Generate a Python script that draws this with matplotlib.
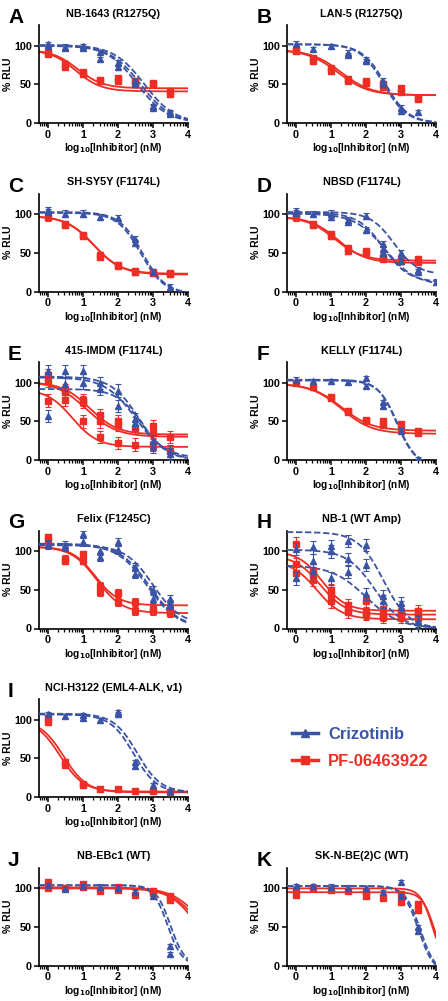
import numpy as np
import matplotlib
matplotlib.use("Agg")
import matplotlib.pyplot as plt
from matplotlib.lines import Line2D

plt.rcParams['font.family'] = ['Liberation Sans', 'DejaVu Sans']
plt.rcParams['font.weight'] = 'bold'
plt.rcParams['mathtext.default'] = 'bf'

BLUE = '#3a53a4'
RED = '#ee2e24'

# fit parameters per replicate: (top, bottom, logIC50, hill)
# data points: x = log10 dose, y = % RLU

# A  NB-1643
A_criz_fit = [(101, 0, 2.55, 1.0), (100, 0, 2.65, 1.0), (101, 0, 2.75, 1.0)]
A_criz_x = [0, 0, 0.5, 0.5, 1, 1, 1.5, 1.5, 2, 2, 2.5, 2.5, 3, 3, 3.5, 3.5]
A_criz_y = [100, 102, 97, 99, 97, 100, 83, 92, 72, 78, 50, 55, 20, 22, 12, 14]
A_pf_fit = [(95, 45, 0.85, 1.2), (95, 41, 0.8, 1.2)]
A_pf_x = [0, 0, 0.5, 0.5, 1, 1, 1.5, 1.5, 2, 2, 2.5, 2.5, 3, 3, 3.5, 3.5]
A_pf_y = [90, 92, 73, 77, 64, 66, 54, 56, 55, 58, 52, 55, 50, 52, 37, 41]

# B  LAN-5
B_criz_fit = [(102, 0, 2.55, 1.3), (102, 0, 2.5, 1.3)]
B_criz_x = [0, 0.5, 1, 1.5, 1.5, 2, 2, 2.5, 2.5, 3, 3, 3.5]
B_criz_y = [103, 96, 100, 88, 91, 80, 82, 50, 55, 15, 20, 14]
B_pf_fit = [(95, 36, 1.2, 1.0), (95, 36, 1.3, 1.0)]
B_pf_x = [0, 0, 0.5, 0.5, 1, 1, 1.5, 1.5, 2, 2, 2.5, 2.5, 3, 3, 3.5, 3.5]
B_pf_y = [93, 95, 80, 84, 67, 71, 55, 57, 52, 54, 47, 50, 40, 45, 31, 33]

# C  SH-SY5Y
C_criz_fit = [(102, -3, 2.65, 1.3), (103, -3, 2.7, 1.3)]
C_criz_x = [0, 0, 0.5, 1, 1.5, 2, 2.5, 2.5, 3, 3.5]
C_criz_y = [105, 103, 101, 101, 97, 95, 68, 63, 25, 6]
C_pf_fit = [(98, 23, 1.3, 1.1), (98, 22, 1.32, 1.1)]
C_pf_x = [0, 0.5, 0.5, 1, 1, 1.5, 1.5, 2, 2, 2.5, 2.5, 3, 3, 3.5, 3.5]
C_pf_y = [96, 86, 88, 72, 73, 47, 45, 33, 34, 25, 26, 25, 24, 23, 24]

# D  NBSD
D_criz_fit = [(102, 12, 2.5, 1.2), (101, 8, 2.55, 1.0), (103, 22, 2.8, 1.3)]
D_criz_x = [0, 0, 0.5, 1, 1, 1.5, 1.5, 2, 2, 2.5, 2.5, 2.5, 3, 3, 3.5, 3.5, 4]
D_criz_y = [104, 102, 100, 101, 97, 93, 90, 98, 80, 62, 55, 50, 50, 40, 28, 25, 12]
D_pf_fit = [(97, 40, 1.1, 1.1), (97, 37, 1.2, 1.1)]
D_pf_x = [0, 0, 0.5, 0.5, 1, 1, 1.5, 1.5, 2, 2, 2.5, 2.5, 3, 3, 3.5, 3.5]
D_pf_y = [96, 98, 86, 88, 72, 75, 53, 56, 50, 53, 42, 45, 40, 42, 38, 42]

# E  415-IMDM
E_criz_fit = [(108, 0, 2.6, 1.1), (107, 2, 2.5, 1.0), (92, 0, 2.7, 1.2)]
E_criz_x = [0, 0, 0.5, 0.5, 1, 1, 1.5, 1.5, 2, 2, 2.5, 2.5, 3, 3, 3.5, 3.5]
E_criz_y = [115, 57, 115, 98, 115, 100, 100, 92, 90, 70, 53, 48, 25, 17, 12, 8]
E_pf_fit = [(101, 33, 1.2, 1.1), (102, 30, 1.1, 1.0), (92, 17, 0.7, 1.2)]
E_pf_x = [0, 0, 0, 0.5, 0.5, 0.5, 1, 1, 1, 1.5, 1.5, 1.5, 2, 2, 2, 2.5, 2.5, 3, 3, 3, 3.5, 3.5]
E_pf_y = [110, 103, 77, 90, 88, 78, 78, 75, 50, 58, 50, 30, 50, 45, 22, 42, 20, 44, 35, 20, 30, 12]

# F  KELLY
F_criz_fit = [(103, -8, 2.9, 1.6), (104, -8, 2.88, 1.6)]
F_criz_x = [0, 0.5, 1, 1.5, 2, 2, 2.5, 2.5, 3, 3.5]
F_criz_y = [104, 102, 102, 101, 106, 96, 75, 70, 38, 1]
F_pf_fit = [(99, 38, 1.3, 1.0), (99, 34, 1.3, 1.0)]
F_pf_x = [0, 0.5, 1, 1, 1.5, 1.5, 2, 2, 2.5, 2.5, 3, 3, 3.5, 3.5]
F_pf_y = [100, 94, 80, 82, 62, 64, 50, 52, 45, 50, 40, 47, 35, 38]

# G  Felix
G_criz_fit = [(110, 0, 2.9, 1.0), (109, 0, 2.85, 1.0), (108, 5, 3.0, 1.1)]
G_criz_x = [0, 0, 0.5, 0.5, 1, 1, 1.5, 1.5, 2, 2, 2.5, 2.5, 3, 3, 3.5, 3.5, 3.5]
G_criz_y = [110, 108, 108, 106, 122, 112, 100, 93, 112, 102, 80, 70, 50, 38, 38, 32, 30]
G_pf_fit = [(106, 30, 1.35, 1.3), (106, 20, 1.4, 1.2)]
G_pf_x = [0, 0, 0.5, 0.5, 1, 1, 1.5, 1.5, 2, 2, 2.5, 2.5, 3, 3, 3.5, 3.5]
G_pf_y = [118, 115, 90, 88, 96, 88, 55, 47, 46, 34, 34, 23, 25, 23, 20, 22]

# H  NB-1
H_criz_fit = [(125, 0, 2.5, 1.2), (102, 0, 2.25, 1.1), (82, 0, 2.0, 0.9)]
H_criz_x = [0, 0, 0.5, 0.5, 0.5, 1, 1, 1, 1.5, 1.5, 1.5, 2, 2, 2, 2.5, 2.5, 3, 3, 3.5, 3.5]
H_criz_y = [103, 65, 105, 88, 75, 107, 100, 65, 113, 90, 73, 108, 82, 45, 42, 35, 33, 28, 10, 8]
H_pf_fit = [(100, 23, 0.75, 1.3), (95, 18, 0.7, 1.2), (88, 12, 0.6, 1.2)]
H_pf_x = [0, 0, 0, 0.5, 0.5, 0.5, 1, 1, 1, 1.5, 1.5, 1.5, 2, 2, 2, 2.5, 2.5, 2.5, 3, 3, 3, 3.5, 3.5, 3.5]
H_pf_y = [110, 83, 72, 75, 70, 63, 50, 45, 35, 30, 25, 22, 35, 20, 19, 25, 18, 15, 22, 18, 15, 23, 18, 13]

# I  NCI-H3122
I_criz_fit = [(107, 5, 2.45, 1.3), (108, 6, 2.55, 1.3)]
I_criz_x = [0, 0.5, 1, 1, 1.5, 2, 2, 2.5, 2.5, 3, 3.5]
I_criz_y = [107, 105, 103, 106, 100, 107, 110, 40, 45, 15, 8]
I_pf_fit = [(100, 7, 0.35, 1.3), (100, 6, 0.45, 1.3)]
I_pf_x = [0, 0, 0.5, 0.5, 1, 1, 1.5, 2, 2.5, 3, 3.5]
I_pf_y = [103, 97, 45, 42, 15, 17, 10, 10, 8, 8, 7]

# J  NB-EBc1
J_criz_fit = [(104, 0, 3.42, 2.1), (104, 0, 3.5, 2.1)]
J_criz_x = [0, 0.5, 1, 1.5, 2, 2.5, 3, 3.5, 3.5]
J_criz_y = [104, 99, 103, 102, 101, 95, 90, 25, 15]
J_pf_fit = [(101, 0, 4.5, 1.0), (101, 0, 4.4, 1.0), (100, 0, 4.3, 1.1)]
J_pf_x = [0, 0, 0.5, 1, 1, 1.5, 2, 2, 2.5, 3, 3, 3.5, 3.5]
J_pf_y = [108, 101, 101, 105, 102, 97, 102, 98, 92, 97, 94, 90, 85]

# K  SK-N-BE(2)C
K_criz_fit = [(103, -10, 3.5, 2.0), (103, -10, 3.55, 2.0)]
K_criz_x = [0, 0.5, 1, 1.5, 2, 2.5, 3, 3, 3.5, 3.5]
K_criz_y = [103, 103, 102, 101, 100, 95, 108, 90, 50, 45]
K_pf_fit = [(100, 0, 3.9, 2.5), (95, 0, 3.95, 2.5)]
K_pf_x = [0, 0, 0.5, 1, 1.5, 2, 2, 2.5, 3, 3, 3.5, 3.5]
K_pf_y = [98, 92, 100, 98, 97, 95, 90, 88, 93, 82, 80, 72]

letters = ['A', 'B', 'C', 'D', 'E', 'F', 'G', 'H', 'I', 'J', 'K']
titles = ['NB-1643 (R1275Q)', 'LAN-5 (R1275Q)', 'SH-SY5Y (F1174L)', 'NBSD (F1174L)',
          '415-IMDM (F1174L)', 'KELLY (F1174L)', 'Felix (F1245C)', 'NB-1 (WT Amp)',
          'NCI-H3122 (EML4-ALK, v1)', 'NB-EBc1 (WT)', 'SK-N-BE(2)C (WT)']
# error bar half-width per panel
errs = [3, 3, 4, 4, 8, 3, 5, 8, 3, 3, 3]

panel_data = {
    'A': (A_criz_fit, A_criz_x, A_criz_y, A_pf_fit, A_pf_x, A_pf_y),
    'B': (B_criz_fit, B_criz_x, B_criz_y, B_pf_fit, B_pf_x, B_pf_y),
    'C': (C_criz_fit, C_criz_x, C_criz_y, C_pf_fit, C_pf_x, C_pf_y),
    'D': (D_criz_fit, D_criz_x, D_criz_y, D_pf_fit, D_pf_x, D_pf_y),
    'E': (E_criz_fit, E_criz_x, E_criz_y, E_pf_fit, E_pf_x, E_pf_y),
    'F': (F_criz_fit, F_criz_x, F_criz_y, F_pf_fit, F_pf_x, F_pf_y),
    'G': (G_criz_fit, G_criz_x, G_criz_y, G_pf_fit, G_pf_x, G_pf_y),
    'H': (H_criz_fit, H_criz_x, H_criz_y, H_pf_fit, H_pf_x, H_pf_y),
    'I': (I_criz_fit, I_criz_x, I_criz_y, I_pf_fit, I_pf_x, I_pf_y),
    'J': (J_criz_fit, J_criz_x, J_criz_y, J_pf_fit, J_pf_x, J_pf_y),
    'K': (K_criz_fit, K_criz_x, K_criz_y, K_pf_fit, K_pf_x, K_pf_y),
}
# grid slot (row, col) of each panel; the legend takes row 4, col 1
slots = [(0, 0), (0, 1), (1, 0), (1, 1), (2, 0), (2, 1), (3, 0), (3, 1), (4, 0), (5, 0), (5, 1)]


def hill_curve(x, top, bottom, logic50, hill):
    return bottom + (top - bottom) / (1 + 10 ** ((x - logic50) * hill))


W, H = 448, 1001
fig = plt.figure(figsize=(W / 100, H / 100), dpi=100)

col_left = [39, 287]
ax_w = 149
row_top0 = 25
row_step = 168.5
ax_h = 98


def axes_rect(row, col):
    top = row_top0 + row * row_step
    return [col_left[col] / W, 1 - (top + ax_h) / H, ax_w / W, ax_h / H]


xs = np.linspace(-0.25, 4, 300)
minor = [d + np.log10(k) for d in range(0, 4) for k in range(2, 10)]
minor = [m for m in minor if m < 4] + [np.log10(k) - 1 for k in range(6, 10)]

for i, letter in enumerate(letters):
    row, col = slots[i]
    ax = fig.add_axes(axes_rect(row, col))
    cfit, cx, cy, pfit, px, py = panel_data[letter]

    for p in pfit:
        ax.plot(xs, hill_curve(xs, *p), color=RED, lw=1.3, zorder=2)
    for p in cfit:
        ax.plot(xs, hill_curve(xs, *p), color=BLUE, lw=1.3, ls=(0, (3.5, 1.5)), zorder=3)

    ax.errorbar(px, py, yerr=errs[i], fmt='s', color=RED, ms=4.3, elinewidth=0.8,
                capsize=2, capthick=0.8, zorder=4)
    ax.errorbar(cx, cy, yerr=errs[i], fmt='^', color=BLUE, ms=4.3, elinewidth=0.8,
                capsize=2, capthick=0.8, zorder=5)

    ax.set_xlim(-0.25, 4)
    ax.set_ylim(0, 127)
    ax.set_xticks([0, 1, 2, 3, 4])
    ax.set_xticks(minor, minor=True)
    ax.set_yticks([0, 50, 100])
    for s in ['top', 'right']:
        ax.spines[s].set_visible(False)
    for s in ['left', 'bottom']:
        ax.spines[s].set_linewidth(1.2)
    ax.tick_params(which='major', length=3.5, width=1.1, labelsize=7.8, pad=1.5)
    ax.tick_params(which='minor', length=2, width=0.9)
    for lab in ax.get_xticklabels() + ax.get_yticklabels():
        lab.set_fontweight('bold')
    ax.set_xlabel(r'log$_{10}$[Inhibitor] (nM)', fontsize=7.3, fontweight='bold', labelpad=1)
    ax.set_ylabel('% RLU', fontsize=7.5, fontweight='bold', labelpad=1)
    ax.set_title(titles[i], fontsize=7.8, fontweight='bold', pad=6)

    lx = 8 if col == 0 else 257
    ty = 8 + row * row_step
    fig.text(lx / W, 1 - ty / H, letter, fontsize=15, fontweight='bold', va='top', ha='left')

# legend
lax = fig.add_axes(axes_rect(4, 1))
lax.axis('off')
handles = [Line2D([], [], color=BLUE, lw=2.5, marker='^', ms=6),
           Line2D([], [], color=RED, lw=2.5, marker='s', ms=6)]
leg = lax.legend(handles, ['Crizotinib', 'PF-06463922'], loc='center left',
                 bbox_to_anchor=(-0.07, 0.5), frameon=False,
                 handlelength=1.6, handletextpad=0.6, labelspacing=0.75,
                 prop={'size': 12, 'weight': 'bold'})
for t, c in zip(leg.get_texts(), [BLUE, RED]):
    t.set_color(c)

fig.savefig('out.png', dpi=100)
